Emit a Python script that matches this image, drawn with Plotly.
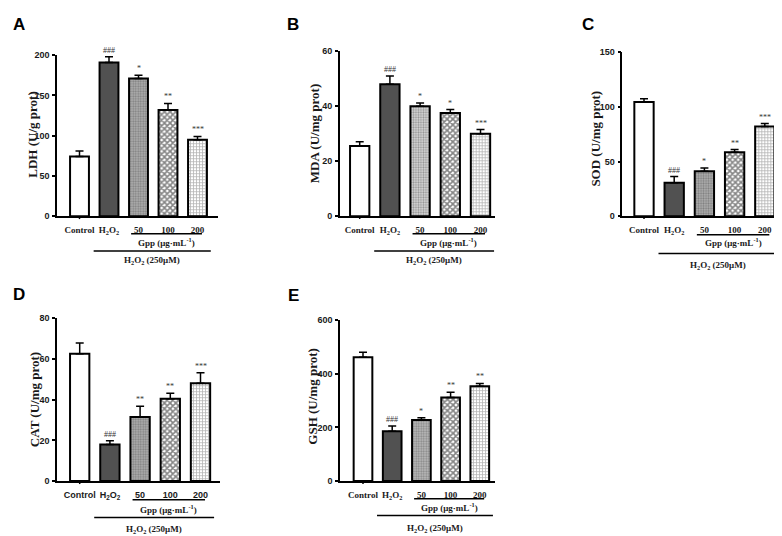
import plotly.graph_objects as go

W, H = 782, 536

# group labels on the x axis
groups = ["Control", "H<sub>2</sub>O<sub>2</sub>", "50", "100", "200"]

# mean values and upper error (SD)
ldh_mean = [74, 191, 171, 132, 95]
ldh_err = [7, 7, 4, 8, 4]
ldh_sig = ["", "###", "*", "**", "***"]

mda_mean = [25.5, 48, 40, 37.5, 30]
mda_err = [1.6, 3, 1.2, 1.3, 1.5]
mda_sig = ["", "###", "*", "*", "***"]

sod_mean = [104.5, 30.5, 41, 58.5, 82]
sod_err = [3, 5.7, 3, 2.4, 2.7]
sod_sig = ["", "###", "*", "**", "***"]

cat_mean = [62.5, 18, 31.5, 40.5, 48]
cat_err = [5.3, 1.8, 5.3, 2.7, 5.2]
cat_sig = ["", "###", "**", "**", "***"]

gsh_mean = [462, 186, 228, 312, 354]
gsh_err = [18, 19, 8, 19, 10]
gsh_sig = ["", "###", "*", "**", "**"]

SERIF = "Liberation Serif, Times New Roman, serif"
SANS = "Liberation Sans, Arial, sans-serif"


def fx(px):
    return px / W


def fy(py):
    return 1 - py / H


def bar_style(j, dot_bg):
    # one fill style per group: open, dark solid, dots, checker, grid
    if j == 0:
        return dict(color="white")
    if j == 1:
        return dict(color="#515151")
    if j == 2:
        return dict(color=dot_bg, pattern=dict(shape=".", fgcolor="#505050", bgcolor=dot_bg,
                                               size=2.5, solidity=0.45))
    if j == 3:
        return dict(color="white", pattern=dict(shape="x", fgcolor="#0a0a0a", bgcolor="white",
                                                size=4, solidity=0.65))
    return dict(color="white", pattern=dict(shape="+", fgcolor="#666666", bgcolor="white",
                                            size=3, solidity=0.45))


# panel geometry in pixels: axis left/right, y top/bottom, first bar offset, bar spacing
panels = [
    dict(letter="A", lx=3, ly=12, title="LDH (U/g prot)", mean=ldh_mean, err=ldh_err, sig=ldh_sig,
         ymax=200, dtick=50, left=49, right=210, top=43, bottom=207, off=22.5, sp=29.5,
         tx=25, ty=124, gpp_y=225, gpp_ly=233, h2_y=242.5, h2_ly=252, dot_bg="#b0b0b0", tickfam=SERIF),
    dict(letter="B", lx=277, ly=12, title="MDA (U/mg prot)", mean=mda_mean, err=mda_err, sig=mda_sig,
         ymax=60, dtick=20, left=331.7, right=486.7, top=39, bottom=207, off=20, sp=30.2,
         tx=306.5, ty=123, gpp_y=225, gpp_ly=233, h2_y=242.5, h2_ly=252, dot_bg="#dadada", tickfam=SERIF),
    dict(letter="C", lx=571.5, ly=12, title="SOD (U/mg prot)", mean=sod_mean, err=sod_err, sig=sod_sig,
         ymax=150, dtick=50, left=614.3, right=770, top=40, bottom=207, off=21.7, sp=30.2,
         tx=588, ty=128, gpp_y=226, gpp_ly=233.5, h2_y=245, h2_ly=257, dot_bg="#b0b0b0", tickfam=SERIF),
    dict(letter="D", lx=3, ly=287, title="CAT (U/mg prot)", mean=cat_mean, err=cat_err, sig=cat_sig,
         ymax=80, dtick=20, left=49, right=212, top=311, bottom=477, off=22.7, sp=30.2,
         tx=26.5, ty=394, gpp_y=496, gpp_ly=505, h2_y=514, h2_ly=526, dot_bg="#b0b0b0", tickfam=SANS),
    dict(letter="E", lx=278, ly=288, title="GSH (U/mg prot)", mean=gsh_mean, err=gsh_err, sig=gsh_sig,
         ymax=600, dtick=200, left=332, right=487, top=313, bottom=477, off=23, sp=29.2,
         tx=305, ty=391, gpp_y=495, gpp_ly=503.5, h2_y=512, h2_ly=525, dot_bg="#bcbcbc", tickfam=SERIF),
]

fig = go.Figure()
annotations = []
shapes = []

for i, p in enumerate(panels):
    n = "" if i == 0 else str(i + 1)
    xa, ya = "x" + n, "y" + n
    lo = -p["off"] / p["sp"]
    hi = lo + (p["right"] - p["left"]) / p["sp"]
    xs = list(range(len(groups)))

    for j in xs:
        marker = bar_style(j, p["dot_bg"])
        marker["line"] = dict(color="black", width=2)
        fig.add_trace(go.Bar(
            x=[j], y=[p["mean"][j]], xaxis=xa, yaxis=ya, width=0.64,
            marker=marker,
            error_y=dict(type="data", symmetric=False, array=[p["err"][j]], arrayminus=[0],
                         color="black", thickness=1.5, width=4),
            showlegend=False, hoverinfo="skip",
        ))

    fig.layout["xaxis" + n] = dict(
        domain=[fx(p["left"]), fx(p["right"])], anchor=ya, range=[lo, hi],
        showline=True, linecolor="black", linewidth=1.5, showgrid=False, zeroline=False,
        tickvals=xs, ticktext=groups, ticks="", ticklabelstandoff=4,
        tickfont=dict(family=p["tickfam"], size=9, color="#1a1a1a", weight="bold"),
        fixedrange=True,
    )
    fig.layout["yaxis" + n] = dict(
        domain=[fy(p["bottom"]), fy(p["top"])], anchor=xa, range=[0, p["ymax"]],
        dtick=p["dtick"], showline=True, linecolor="black", linewidth=1.5,
        showgrid=False, zeroline=False, ticks="outside", ticklen=3, tickwidth=1.5,
        tickcolor="black", ticklabelstandoff=1,
        tickfont=dict(family=SANS, size=9, color="#1a1a1a", weight="bold"),
        fixedrange=True,
    )

    # significance marks above error bars
    for j, s in enumerate(p["sig"]):
        if s:
            annotations.append(dict(
                x=j, y=p["mean"][j] + p["err"][j], xref=xa, yref=ya, text=s,
                showarrow=False, yanchor="bottom", yshift=0,
                font=dict(family=SERIF, size=8, color="#333"),
            ))

    # y-axis title
    annotations.append(dict(
        x=fx(p["tx"]), y=fy(p["ty"]), xref="paper", yref="paper", text=p["title"],
        textangle=-90, showarrow=False, xanchor="center", yanchor="middle",
        font=dict(family=SERIF, size=13, color="#1a1a1a", weight="bold"),
    ))

    # panel letter
    annotations.append(dict(
        x=fx(p["lx"]), y=fy(p["ly"]), xref="paper", yref="paper", text=p["letter"],
        showarrow=False, xanchor="left", yanchor="middle",
        font=dict(family=SANS, size=17, color="black", weight="bold"),
    ))

    # small tick under Control
    shapes.append(dict(type="line", xref=xa, yref="paper", x0=0, x1=0,
                       y0=fy(p["bottom"]), y1=fy(p["bottom"] + 3),
                       line=dict(color="black", width=1.5)))

    # Gpp bracket line and label
    shapes.append(dict(type="line", xref=xa, yref="paper", x0=1.75, x1=4.15,
                       y0=fy(p["gpp_y"]), y1=fy(p["gpp_y"]), line=dict(color="black", width=1.5)))
    annotations.append(dict(
        x=2.95, y=fy(p["gpp_ly"]), xref=xa, yref="paper",
        text="Gpp (μg·mL<sup>-1</sup>)", showarrow=False, xanchor="center", yanchor="middle",
        font=dict(family=SERIF, size=9, color="#1a1a1a", weight="bold"),
    ))

    # H2O2 treatment line and label
    shapes.append(dict(type="line", xref=xa, yref="paper", x0=0.48, x1=4.45,
                       y0=fy(p["h2_y"]), y1=fy(p["h2_y"]), line=dict(color="black", width=1.5)))
    annotations.append(dict(
        x=2.46, y=fy(p["h2_ly"]), xref=xa, yref="paper",
        text="H<sub>2</sub>O<sub>2</sub> (250μM)", showarrow=False, xanchor="center",
        yanchor="middle", font=dict(family=SERIF, size=9, color="#1a1a1a", weight="bold"),
    ))

fig.update_layout(
    width=W, height=H,
    margin=dict(l=0, r=0, t=0, b=0),
    paper_bgcolor="white", plot_bgcolor="white",
    annotations=annotations, shapes=shapes,
    barmode="overlay",
)

fig.write_html("out.html", config={"displayModeBar": False})
